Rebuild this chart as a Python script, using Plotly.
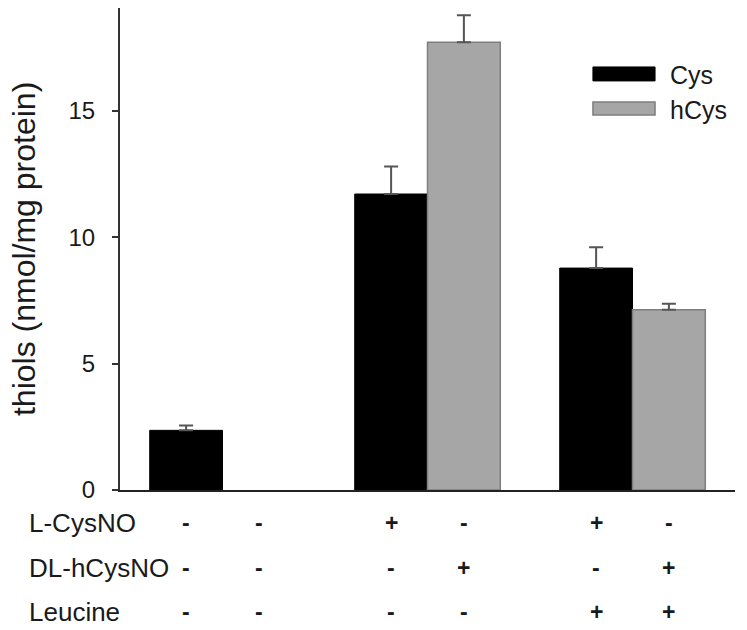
import plotly.graph_objects as go

# ---- data ----
group_pos = [0, 1, 2]
cys = [2.36, 11.71, 8.78]
cys_err = [0.19, 1.09, 0.82]
hcys = [None, 17.71, 7.13]
hcys_err = [0, 1.07, 0.24]

row_labels = ["L-CysNO", "DL-hCysNO", "Leucine"]
l_cysno = ["-", "-", "+", "-", "+", "-"]
dl_hcysno = ["-", "-", "-", "+", "-", "+"]
leucine = ["-", "-", "-", "-", "+", "+"]
series_names = ["Cys", "hCys"]

FONT = "Liberation Sans, Arial, sans-serif"
TXT = "#1a1a1a"

fig = go.Figure()
fig.add_trace(go.Bar(
    x=group_pos, y=cys, name=series_names[0],
    marker=dict(color="#000000", line=dict(color="#000000", width=1)),
    error_y=dict(type="data", array=cys_err, arrayminus=[0] * 3, symmetric=False,
                 color="#555555", thickness=2, width=7),
    showlegend=False,
))
fig.add_trace(go.Bar(
    x=group_pos, y=hcys, name=series_names[1],
    marker=dict(color="#a6a6a6", line=dict(color="#7f7f7f", width=1.5)),
    error_y=dict(type="data", array=hcys_err, arrayminus=[0] * 3, symmetric=False,
                 color="#555555", thickness=2, width=7),
    showlegend=False,
))

bargap = 0.29
bar_w = (1 - bargap) / 2

# treatment table below axis
rows = [l_cysno, dl_hcysno, leucine]
row_y = [-0.0694, -0.1627, -0.2539]
annotations = []
for label, vals, yy in zip(row_labels, rows, row_y):
    annotations.append(dict(text=label, x=-0.1512, xref="paper", y=yy, yref="paper",
                            xanchor="left", yanchor="middle", showarrow=False,
                            font=dict(family=FONT, size=26, color=TXT)))
    for i, v in enumerate(vals):
        g = group_pos[i // 2]
        xc = g - bar_w / 2 if i % 2 == 0 else g + bar_w / 2
        annotations.append(dict(text=f"<b>{v}</b>", x=xc, xref="x", y=yy, yref="paper",
                                xanchor="center", yanchor="middle", showarrow=False,
                                font=dict(family=FONT, size=23, color=TXT)))

# y axis title
annotations.append(dict(text="thiols (nmol/mg protein)", x=-0.156, xref="paper",
                        y=0.5, yref="paper", textangle=-90, showarrow=False,
                        xanchor="center", yanchor="middle",
                        font=dict(family=FONT, size=32, color=TXT)))

# custom legend
shapes = [
    dict(type="rect", xref="paper", yref="paper", x0=0.769, x1=0.870, y0=0.8487, y1=0.8777,
         fillcolor="#000000", line=dict(color="#000000", width=1)),
    dict(type="rect", xref="paper", yref="paper", x0=0.769, x1=0.870, y0=0.7782, y1=0.8052,
         fillcolor="#a6a6a6", line=dict(color="#7f7f7f", width=1.5)),
]
annotations.append(dict(text=series_names[0], x=0.891, xref="paper", y=0.861, yref="paper",
                        xanchor="left", yanchor="middle", showarrow=False,
                        font=dict(family=FONT, size=25, color=TXT)))
annotations.append(dict(text=series_names[1], x=0.891, xref="paper", y=0.7886, yref="paper",
                        xanchor="left", yanchor="middle", showarrow=False,
                        font=dict(family=FONT, size=25, color=TXT)))

fig.update_layout(
    width=747, height=630,
    margin=dict(l=120, r=12, t=8, b=139.5),
    paper_bgcolor="white", plot_bgcolor="white",
    barmode="group", bargap=bargap, bargroupgap=0,
    annotations=annotations, shapes=shapes,
    xaxis=dict(range=[-0.5, 2.5], showticklabels=False, ticks="", showgrid=False,
               zeroline=False, showline=True, linecolor="#222222", linewidth=2),
    yaxis=dict(range=[0, 19.07], tickvals=[0, 5, 10, 15], ticks="outside", ticklen=6,
               tickwidth=2, tickcolor="#333333", showgrid=False, zeroline=False,
               showline=True, linecolor="#333333", linewidth=2,
               ticklabelstandoff=12,
               tickfont=dict(family=FONT, size=24, color=TXT)),
)

fig.write_html("out.html", config={"displayModeBar": False},
               post_script="document.body.style.margin='0';")
